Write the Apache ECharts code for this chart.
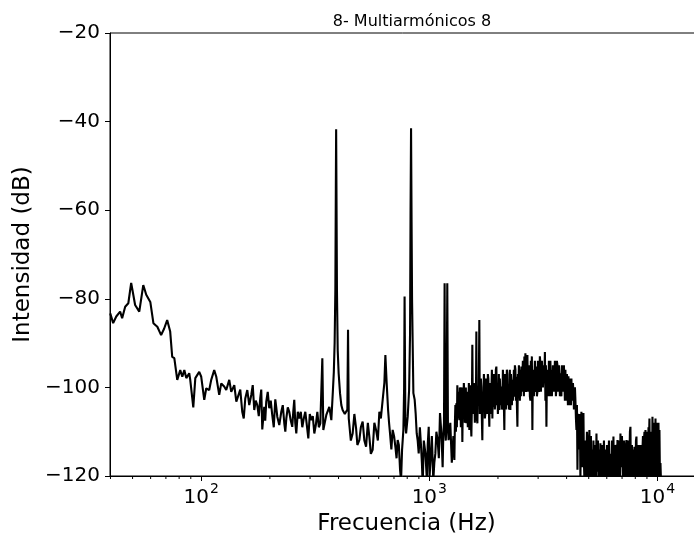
<!DOCTYPE html>
<html><head><meta charset="utf-8">
<script src="https://cdn.jsdelivr.net/npm/echarts@6/dist/echarts.min.js"></script>
<style>html,body{margin:0;padding:0;background:#fff}#c{width:694px;height:538px}</style>
</head><body><div id="c"></div>
<script>
const titleText = '8- Multiarmónicos 8';
const xAxisName = 'Frecuencia (Hz)';
const yAxisName = 'Intensidad (dB)';
const xMin = 39.81, xMax = 15849;
const yMin = -120, yMax = -20, yStep = 20;
const xMinorTicks = [40,50,60,70,80,90,200,300,400,500,600,700,800,900,2000,3000,4000,5000,6000,7000,8000,9000];

// 40 Hz - 1.3 kHz
const lowFreqHz = [
39.9,41.1,42.4,44.1,45.0,46.4,47.9,49.3,50.3,51.3,53.5,55.7,57.4,59.8,61.7,64.2,66.7,68.8,70.9,73.1,
74.6,76.2,78.5,80.9,82.6,84.3,86.0,88.6,89.5,92.3,94.2,98.0,100,103.1,105.2,108.4,110.6,114.0,116.4,119.9,
122.4,126.1,128.7,132.7,135.4,139.6,142.5,145.3,148.3,151.3,153.6,156.0,159.2,162.4,165.7,168.2,170.8,173.4,176.1,178.8,
181.4,183.3,185.2,188.9,190.8,192.8,195.7,198.7,201.7,204.8,208.0,211.2,213.3,215.5,219.9,224.4,227.8,231.3,233.7,236.1,
239.6,243.2,246.9,250.7,253.2,255.8,258.4,261.1,265.1,269.1,273.2,277.4,281.6,286.0,290.4,294.8,299.2,303.8,308.4,313.2,
318.0,322.9,327.8,332.8,336.2,339.6,343.0,
353.6,364.4,371.9,377.6,381.4,384.5,387.3,389.2,390.4,391.6,393.6,396.6,400.4,406.0,411.4,416.8,426.1,437.2,440.2,443.4,
446.0,452.8,461.2,469.2,477.4,483.7,493.4,501.0,510.2,519.1,528.1,537.7,545.8,554.2,564.4,574.2,584.2,594.8,603.9,613.1,
624.5,635.3,641.8,650.3,659.6,666.1,672.7,681.7,690.8,700.7,710.0,718.4,726.7,735.3,744.3,751.9,759.5,769.7,775.5,779.1,
785.5,791.1,804.0,815.5,823.4,827.6,831.7,835.9,840.2,851.5,862.7,871.6,880.5,889.4,898.5,909.2,920.2,927.9,935.5,946.2,
961.4,976.1,984.0,994.1,1003,1013,1026,1041,1052,1063,1074,1088,1101,1114,1125,1137,1144,1152,1160,1167,
1174,1181,1190,1199,1207,1215,1236,1255,1275
];
const lowDb = [
-83.3,-85.5,-84.0,-82.9,-84.4,-81.8,-81.0,-76.4,-76.7,-81.4,-82.9,-76.9,-79.1,-80.7,-85.5,-86.3,-88.2,-86.7,-84.8,-87.4,
-93.1,-93.4,-98.3,-96.1,-97.6,-96.1,-97.9,-96.8,-98.3,-104.5,-97.9,-96.5,-97.6,-102.8,-100.2,-100.6,-98.3,-96.1,-97.6,-101.7,
-99.1,-99.8,-100.6,-98.3,-101.0,-99.5,-103.2,-102.8,-100.5,-105.5,-107,-102.5,-100.6,-104,-101.7,-99.5,-105.1,-103,-104.0,-106.5,
-102.5,-100.5,-109.5,-104.4,-107.5,-103.2,-101,-104.7,-103,-106.2,-109,-102.7,-104.5,-106.6,-108.5,-105.5,-104,-108.1,-110,-107.0,
-104.5,-105.5,-107.5,-108.9,-105.5,-102.8,-108,-110.4,-105.5,-107.0,-105.5,-109.0,-107,-105.5,-108.5,-111.5,-106,-107.4,-106.5,-110.4,
-108.5,-105.5,-109,-108.1,-108.5,-93.4,-109.6,
-106.2,-104.4,-107.4,-101,-96.5,-90,-78,-55,-41.7,-55,-78,-91.6,-96.8,-101.3,-104,-105.1,-106,-105,-87.0,-107,
-107.4,-112,-110.4,-106,-109.2,-113,-111.9,-109,-107.7,-112,-113.4,-108,-111.1,-115,-114.1,-108,-109.6,-112,-105.5,-107,
-102.8,-99,-92.7,-99.1,-105.1,-108,-110.4,-114,-109.6,-111,-113.4,-116,-111.9,-113,-118.6,-121,-114.1,-109.6,-100,-79.5,
-108,-110.4,-106.6,-100.6,-87.7,-60,-41.5,-62,-80.3,-101.3,-102.8,-106,-110.4,-112,-114.9,-109,-113.4,-117,-122,-112,
-114.9,-121,-113,-108.9,-120,-116.4,-111,-121,-117,-114.9,-110,-111.9,-116,-105.8,-109,-114.1,-118,-110.4,-108,-76.5,
-110,-112,-108,-76.5,-109,-111.9,-108,-117,-111
];

// 1.3 kHz - 4.5 kHz broadband hump
const bandFreqHz = [
1288,1295,1301,1308,1314,1321,1327,1334,1341,1348,1354,1361,1368,1375,1382,1389,1396,1403,1410,1417,
1424,1431,1439,1446,1454,1461,1468,1475,1483,1491,1498,1506,1513,1521,1529,1537,1544,1552,1560,1568,
1576,1584,1592,1600,1608,1616,1625,1633,1641,1649,1657,1665,1674,1683,1691,1700,1708,1717,1726,1735,
1743,1752,1761,1770,1779,1788,1797,1806,1815,1824,1833,1842,1852,1861,1871,1881,1890,1900,1909,1919,
1928,1938,1948,1958,1968,1978,1988,1998,2008,2018,2028,2038,2049,2059,2070,2081,2091,2102,2112,2123,
2133,2144,2155,2166,2177,2188,2199,2210,2222,2233,2244,2255,2267,2279,2290,2302,2313,2325,2337,2349,
2361,2373,2385,2397,2409,2421,2434,2446,2459,2471,2482,2495,2507,2520,2533,2546,2559,2572,2585,2598,
2611,2624,2638,2651,2665,2679,2692,2706,2719,2733,2746,2760,2774,2788,2802,2816,2831,2845,2860,2875,
2889,2904,2918,2933,2948,2963,2978,2993,3009,3024,3038,3053,3069,3085,3100,3116,3132,3148,3164,3180,
3196,3212,3229,3245,3262,3279,3295,3312,3328,3345,3361,3378,3395,3412,3430,3447,3465,3483,3500,3518,
3536,3554,3572,3590,3608,3626,3645,3664,3682,3701,3718,3737,3756,3775,3794,3813,3833,3853,3872,3892,
3911,3931,3951,3971,3992,4012,4032,4053,4074,4095,4114,4135,4156,4177,4198,4219,4241,4263,4284,4306,
4328,4350,4372,4394,4417,4440,4462,4485
];
const bandDb = [
-116.4,-108,-104,-110,-103.6,-109,-99.5,-107,-106,-101,-107.4,-100,-102,-109,-104,-100,-112.3,-103,-105,-99,
-101.3,-108,-106,-100,-108.1,-101,-103,-109,-104.4,-99,-109.6,-102,-99.5,-108,-111.1,-104,-90.4,-106,-105.8,-99,
-102,-108,-99.1,-106,-87.4,-107,-108.1,-100,-104,-99,-84.8,-106,-105.1,-98,-100,-107,-111.9,-101,-103,-97,
-99.1,-107,-106,-98,-101,-106,-103.6,-97,-98,-105,-108.9,-99,-100,-106,-101.3,-96,-107,-100,-104.4,-97,
-97,-105,-103,-96,-95.3,-104,-99.1,-106,-104,-97,-105.1,-98,-98,-104,-99.8,-105,-103.6,-96,-99,-104,
-109.6,-97,-100,-105,-102.1,-96,-97,-104,-99.8,-105,-104,-96,-105.1,-97,-99,-104,-98.3,-103,-103,-96,
-102.1,-95,-96,-103,-97.6,-104,-108.9,-97,-100,-95,-99.1,-103,-96,-102,-95.3,-101,-101,-94,-98.3,-102,
-93,-100,-92.3,-101,-99,-94,-92.7,-101,-101,-95,-96.1,-102,-103,-94,-99.8,-93,-109.6,-96,-97,-102,
-102.1,-94,-99,-101,-95.3,-102,-101,-94,-96.8,-101,-100,-93,-94.6,-101,-101,-94,-93.8,-100,-100,-95,
-98.3,-92,-103,-95,-108.9,-96,-96.1,-102,-101,-94,-98.3,-102,-94,-101,-96.1,-102,-102,-95,-97.6,-101,
-101,-94,-96.1,-102,-100,-94,-95,-101,-100.6,-95,-97,-102,-96.8,-101,-102,-95,-96.1,-101,-101,-95,
-98.3,-103,-96,-102,-103,-97,-99.1,-104,-97.5,-103,-104,-98,-100.6,-104,-98,-103,-102.8,-99,-101,-105,
-105.1,-100,-103,-107,-109.6,-104,-118.6,-106
];

// 4.5 kHz - 10.4 kHz
const highFreqHz = [
4507,4530,4551,4574,4597,4620,4644,4668,4692,4716,4740,4764,4788,4812,4837,4862,4886,4911,4936,4961,
4986,5011,5035,5061,5086,5112,5138,5164,5191,5217,5244,5271,5297,5324,5351,5378,5406,5434,5461,5489,
5516,5544,5570,5598,5627,5656,5684,5713,5742,5771,5801,5831,5860,5890,5920,5950,5980,6010,6041,6072,
6102,6133,6162,6193,6225,6257,6288,6320,6352,6384,6417,6450,6483,6516,6549,6582,6616,6650,6683,6717,
6751,6785,6817,6852,6887,6922,6957,6992,7028,7064,7099,7135,7172,7209,7245,7282,7319,7356,7393,7431,
7469,7507,7541,7579,7618,7657,7696,7735,7774,7814,7853,7893,7933,7973,8014,8055,8096,8137,8178,8220,
8262,8304,8343,8386,8428,8471,8514,8557,8601,8645,8688,8732,8777,8822,8867,8912,8957,9003,9048,9094,
9141,9188,9230,9277,9324,9372,9420,9468,9515,9564,9612,9661,9710,9760,9810,9860,9909,9960,10010,10061,
10110,10162,10211,10263,10315,10368,10421
];
const highDb = [
-107,-114,-112.6,-106,-121,-110,-105.5,-118,-110,-108,-105.8,-117,-121,-112,-113.4,-121,-116,-110,-110.0,-119,
-121,-112,-109.6,-121,-118,-111,-121,-114,-115.6,-121,-112,-121,-121,-113,-115,-121,-110.4,-119,-117,-112,
-121,-114,-114,-121,-112.6,-120,-121,-113,-113,-121,-115.6,-112,-121,-114,-114.1,-121,-119,-113,-113,-121,
-117.1,-112,-121,-115,-114.9,-121,-118,-112,-112,-121,-111.1,-120,-120,-113,-121,-114,-113,-121,-111.9,-119,
-121,-112,-112,-121,-110.4,-118,-118,-111,-111.1,-121,-116,-112,-118.6,-121,-121,-113,-111.9,-121,-117,-112,
-112.6,-121,-121,-110,-108.9,-121,-117,-113,-121,-114,-115,-121,-113.4,-119,-121,-112,-111.1,-121,-118,-113,
-115.6,-121,-113,-120,-121,-113,-117,-121,-114.1,-111,-121,-112,-110,-121,-109.6,-118,-121,-110,-118.6,-121,
-109,-112,-107.0,-121,-121,-110,-109.6,-121,-106.6,-118,-121,-108,-111.1,-121,-107.0,-119,-120,-108,-113.4,-121,
-108,-117,-109.6,-121,-117.1,-121,-122
];

const spectrum = []
  .concat(lowFreqHz.map((f, i) => [f, lowDb[i]]))
  .concat(bandFreqHz.map((f, i) => [f, bandDb[i]]))
  .concat(highFreqHz.map((f, i) => [f, highDb[i]]));

const FONT = 'DejaVu Sans';
const chart = echarts.init(document.getElementById('c'), null, {renderer: 'canvas'});
chart.setOption({
  backgroundColor: '#fff',
  animation: false,
  title: {
    text: titleText, left: 407, top: 9, textAlign: 'center',
    textStyle: {fontFamily: FONT, fontSize: 16, fontWeight: 'normal', color: '#000'}
  },
  grid: {left: 110, top: 33, right: -9, bottom: 62, outerBoundsMode: 'none', containLabel: false,
         show: true, borderColor: '#000', borderWidth: 1, backgroundColor: 'transparent'},
  xAxis: {
    type: 'log', logBase: 10, min: xMin, max: xMax,
    name: xAxisName, nameLocation: 'middle', nameGap: 34,
    nameTextStyle: {fontFamily: FONT, fontSize: 23, color: '#000'},
    axisLine: {lineStyle: {color: '#000', width: 1}},
    axisTick: {show: true, length: 5, lineStyle: {color: '#000'}},
    splitLine: {show: false},
    minorTick: {show: false},
    axisLabel: {
      showMinLabel: false, showMaxLabel: false, margin: 6,
      fontFamily: FONT, color: '#000',
      formatter: function (v) {
        const e = Math.round(Math.log10(v));
        if (Math.abs(v - Math.pow(10, e)) > 1e-6 * v) return '';
        return '{b|10}{s|' + e + '}';
      },
      rich: {
        b: {fontFamily: FONT, fontSize: 20, color: '#000', verticalAlign: 'bottom'},
        s: {fontFamily: FONT, fontSize: 14, color: '#000', verticalAlign: 'bottom', padding: [0, 0, 12, 1]}
      }
    }
  },
  yAxis: {
    type: 'value', min: yMin, max: yMax, interval: yStep,
    name: yAxisName, nameLocation: 'middle', nameGap: 74,
    nameTextStyle: {fontFamily: FONT, fontSize: 23, color: '#000'},
    axisLine: {show: true, lineStyle: {color: '#000', width: 1}},
    axisTick: {show: true, length: 5, lineStyle: {color: '#000'}},
    splitLine: {show: false},
    axisLabel: {
      margin: 10, fontFamily: FONT, fontSize: 20, color: '#000',
      formatter: v => String(v).replace('-', '\u2212')
    }
  },
  series: [
    {
      type: 'line', data: spectrum,
      showSymbol: false, symbol: 'none', clip: true,
      lineStyle: {color: '#000', width: 2.1}, silent: true
    },
    {
      type: 'custom', silent: true, clip: false, z: 5,
      data: xMinorTicks.map(f => [f, yMin]),
      encode: {x: 0, y: 1},
      renderItem: function (params, api) {
        const p = api.coord([api.value(0), api.value(1)]);
        return {type: 'line', shape: {x1: p[0], y1: p[1], x2: p[0], y2: p[1] + 3},
                style: {stroke: '#000', lineWidth: 1}};
      }
    }
  ]
});
</script></body></html>
